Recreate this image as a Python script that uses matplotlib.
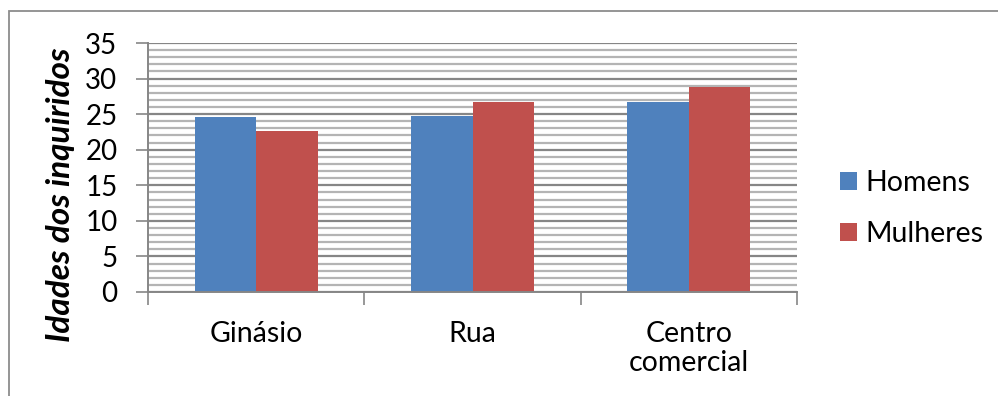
import matplotlib
matplotlib.use("Agg")
import matplotlib.pyplot as plt
from matplotlib.patches import Rectangle
from matplotlib.ticker import MultipleLocator, FixedLocator, NullFormatter
import numpy as np

plt.rcParams['font.family'] = ['Lato', 'DejaVu Sans']

categories = ["Ginásio", "Rua", "Centro\ncomercial"]
homens = [24.6, 24.7, 26.7]
mulheres = [22.6, 26.7, 28.8]
y_ticks = [0, 5, 10, 15, 20, 25, 30, 35]
series_names = ["Homens", "Mulheres"]
y_label = "Idades dos inquiridos"

blue = "#4F81BD"
red = "#C0504D"

W, H = 998, 396
fig = plt.figure(figsize=(W / 100, H / 100), dpi=100)
ax = fig.add_axes([148 / W, 1 - 292 / H, (797 - 148) / W, (292 - 43) / H])

x = np.arange(len(categories))
bw = 0.285
ax.bar(x - bw / 2, homens, bw, color=blue, zorder=3, label=series_names[0])
ax.bar(x + bw / 2, mulheres, bw, color=red, zorder=3, label=series_names[1])

ax.set_xlim(-0.5, len(categories) - 0.5)
ax.set_ylim(0, 35)

# y axis: major every 5, minor every 1
ax.yaxis.set_major_locator(FixedLocator(y_ticks))
ax.yaxis.set_minor_locator(MultipleLocator(1))
ax.grid(which='major', axis='y', color='#868686', linewidth=1.6, zorder=1)
ax.grid(which='minor', axis='y', color='#b4b4b4', linewidth=1.6, zorder=0)
ax.tick_params(axis='y', which='major', length=9, width=1.2, color='#868686',
               labelsize=20, pad=13)
ax.tick_params(axis='y', which='minor', length=0)

# x axis: labels at categories, tick marks between categories
ax.set_xticks(x)
ax.set_xticklabels(categories, fontsize=20.5, linespacing=1.15)
ax.tick_params(axis='x', which='major', length=0, pad=21)
ax.xaxis.set_minor_locator(FixedLocator(np.arange(-0.5, len(categories), 1.0)))
ax.xaxis.set_minor_formatter(NullFormatter())
ax.tick_params(axis='x', which='minor', length=9, width=1.2, color='#868686')

for s in ['top', 'right']:
    ax.spines[s].set_visible(False)
for s in ['left', 'bottom']:
    ax.spines[s].set_color('#868686')
    ax.spines[s].set_linewidth(1.4)
    ax.spines[s].set_zorder(4)

ax.set_ylabel(y_label, fontsize=24, fontweight='bold', fontstyle='italic')
ax.yaxis.set_label_coords(-0.112, 0.39)

leg = ax.legend(loc='center left', bbox_to_anchor=(1.066, 0.335), frameon=False,
                fontsize=20.5, handlelength=0.6, handleheight=0.6,
                handletextpad=0.28, labelspacing=0.88, borderpad=0,
                borderaxespad=0)

# outer chart frame
fig.patches.append(Rectangle((9 / W, -0.1), 1.2, 1 - 11 / H + 0.1,
                             transform=fig.transFigure, fill=False,
                             edgecolor='#8c8c8c', linewidth=1.3))

fig.savefig("out.png", dpi=100)
